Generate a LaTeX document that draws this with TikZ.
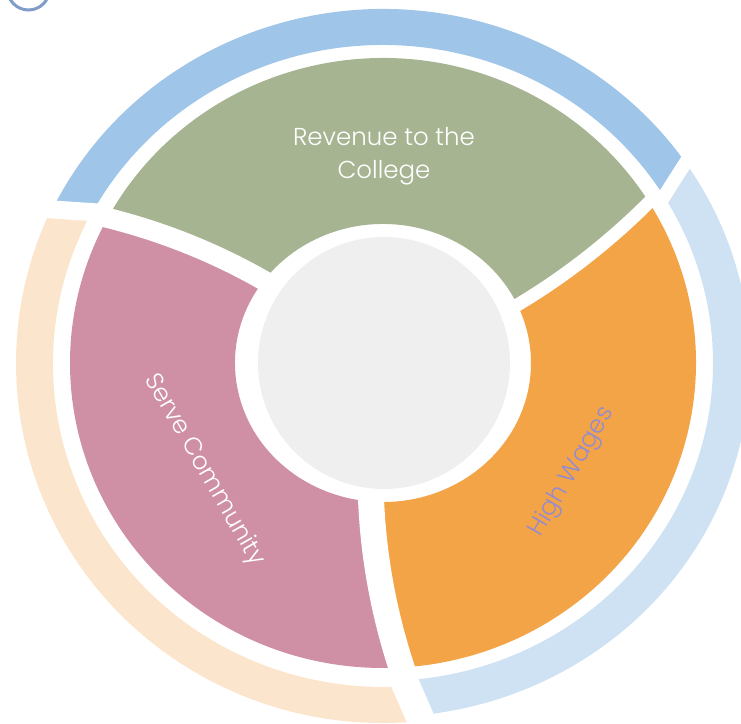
\documentclass[tikz,border=0pt]{standalone}
\usepackage{fontspec}
\newfontfamily\labelfont{Poppins Light}
\definecolor{greenseg}{HTML}{A6B492}
\definecolor{pinkseg}{HTML}{CF90A6}
\definecolor{orangeseg}{HTML}{F3A447}
\definecolor{bluering}{HTML}{9FC5E8}
\definecolor{lightring}{HTML}{CFE2F3}
\definecolor{peachring}{HTML}{FCE5CD}
\definecolor{hubgray}{HTML}{EFEFEF}
\definecolor{wagestext}{HTML}{958BD0}
\definecolor{cornerarc}{HTML}{7F9DC8}

\begin{document}
\begin{tikzpicture}[x=1pt,y=1pt,samples=24,
	declare function={sx(\t)=148+165*\t; sy(\t)=139+166*\t;},
	gap/.style={draw=white,line cap=butt},
	lbl/.style={font=\labelfont\fontsize{24.5}{33}\selectfont,align=center,inner sep=0pt}]
	\useasboundingbox (-383,-360) rectangle (358,363);

	% outer ring
	\fill[bluering] (151.6:330 and 318) -- (154.2:367 and 354) arc[start angle=154.2,end angle=34.4,x radius=367,y radius=354]
		-- (31.5:330 and 318) arc[start angle=31.5,end angle=151.6,x radius=330,y radius=318] -- cycle;
	\fill[lightring] (31.5:330 and 318) -- (34.4:367 and 354) arc[start angle=34.4,end angle=-84.1,x radius=367,y radius=354]
		-- (-86.4:330 and 318) arc[start angle=-86.4,end angle=31.5,x radius=330,y radius=318] -- cycle;
	\fill[peachring] (273.6:330 and 323) -- (275.9:367 and 360) arc[start angle=275.9,end angle=154.2,x radius=367,y radius=360]
		-- (151.6:330 and 321) arc[start angle=151.6,end angle=273.6,x radius=330,y radius=323] -- cycle;
	\draw[gap,line width=18] (151.0:322 and 310) -- (154.8:375 and 362);
	\draw[gap,line width=13.5] (30.9:322 and 310) -- (35.0:375 and 362);
	\draw[gap,line width=28] (273.1:322 and 310) -- (276.4:375 and 368);

	% inner band, twisted dividers
	\fill[greenseg] plot[domain=0:1] ({sx(\x)*cos(143.6+8*\x)},{sy(\x)*sin(143.6+8*\x)})
		arc[start angle=151.6,end angle=31.8,x radius=313,y radius=305]
		-- plot[domain=1:0] ({sx(\x)*cos(24.7+7.1*\x)},{sy(\x)*sin(24.7+7.1*\x)})
		arc[start angle=24.7,end angle=143.6,x radius=148,y radius=139] -- cycle;
	\fill[pinkseg] plot[domain=0:1] ({sx(\x)*cos(265.4+8*\x)},{sy(\x)*sin(265.4+8*\x)})
		arc[start angle=273.4,end angle=151.6,x radius=313,y radius=305]
		-- plot[domain=1:0] ({sx(\x)*cos(143.6+8*\x)},{sy(\x)*sin(143.6+8*\x)})
		arc[start angle=143.6,end angle=265.4,x radius=148,y radius=139] -- cycle;
	\fill[orangeseg] plot[domain=0:1] ({sx(\x)*cos(24.7+7.1*\x)},{sy(\x)*sin(24.7+7.1*\x)})
		arc[start angle=31.8,end angle=-86.6,x radius=313,y radius=305]
		-- plot[domain=1:0] ({sx(\x)*cos(265.4+8*\x)},{sy(\x)*sin(265.4+8*\x)})
		arc[start angle=265.4,end angle=384.7,x radius=148,y radius=139] -- cycle;
	\draw[gap,line width=20] plot[domain=-0.04:1.03] ({sx(\x)*cos(143.6+8*\x)},{sy(\x)*sin(143.6+8*\x)});
	\draw[gap,line width=13] plot[domain=-0.04:1.03] ({sx(\x)*cos(24.7+7.1*\x)},{sy(\x)*sin(24.7+7.1*\x)});
	\draw[gap,line width=26] plot[domain=-0.04:1.03] ({sx(\x)*cos(265.4+8*\x)},{sy(\x)*sin(265.4+8*\x)});

	\node[circle,fill=hubgray,minimum size=252,inner sep=0pt] (hub) at (1,0) {};

	\node[lbl,text=white] (revenue) at (1,207) {Revenue to the\\College};
	\node[lbl,text=white,rotate=-60] (serve) at (-179,-107) {Serve Community};
	\node[lbl,text=wagestext,rotate=60] (wages) at (189,-109) {High Wages};

	\draw[cornerarc,line width=3] (-354.5,374) circle[radius=21];
\end{tikzpicture}
\end{document}
